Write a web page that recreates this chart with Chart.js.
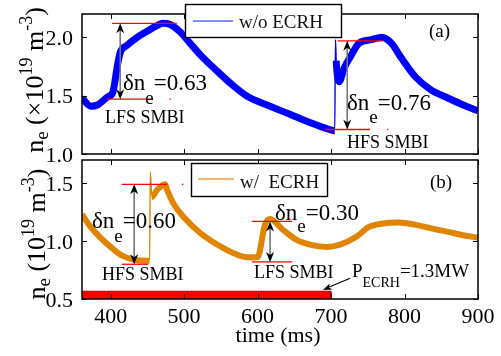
<!DOCTYPE html>
<html>
<head>
<meta charset="utf-8">
<script src="https://cdn.jsdelivr.net/npm/chart.js@4.4.0/dist/chart.umd.min.js"></script>
<style>
  html, body { margin: 0; padding: 0; background: #fff; }
  #wrap { position: relative; width: 501px; height: 356px; overflow: hidden; }
  #top { position: absolute; left: 0; top: 0; }
  #bottom { position: absolute; left: 0; top: 156px; }
</style>
</head>
<body>
<div id="wrap">
  <canvas id="top" width="501" height="168"></canvas>
  <canvas id="bottom" width="501" height="200"></canvas>
</div>
<script>
// time axis (ms)
const xMin = 361, xMax = 900;
const xTickValues = [400, 500, 600, 700, 800, 900];

// panel (a): without ECRH
const topTime = [361, 373, 382, 396, 403, 409, 413, 422, 436, 449, 463, 471, 481, 494, 508, 522, 545, 566, 587, 617, 644, 671, 698, 705, 706, 707, 711, 718, 726, 738, 755, 769, 782, 796, 815, 836, 859, 880, 900];
const topDensity = [1.48, 1.41, 1.42, 1.49, 1.53, 1.75, 1.87, 1.93, 2.0, 2.05, 2.1, 2.12, 2.11, 2.05, 1.95, 1.85, 1.71, 1.59, 1.49, 1.41, 1.34, 1.27, 1.21, 1.2, 1.98, 1.8, 1.62, 1.74, 1.83, 1.95, 1.98, 2.0, 1.95, 1.82, 1.66, 1.55, 1.48, 1.42, 1.37];
const topJump = [705, 707];
const topYTicks = [1.0, 1.5, 2.0];
// red reference levels [t start, t end, level]
const topRefLines = [[402, 490, 2.12], [395, 456, 1.47], [480, 482, 1.47], [709, 771, 1.97], [692, 753, 1.21], [776, 778, 1.21]];
// double arrows [t, low, high]
const topArrows = [[413, 1.47, 2.12], [722, 1.21, 1.97]];

// panel (b): with ECRH
const bottomTime = [361, 373, 386, 400, 414, 431, 449, 453, 454, 456, 463, 474, 477, 485, 499, 522, 545, 566, 586, 600, 610, 617, 634, 653, 671, 694, 712, 735, 751, 769, 792, 815, 836, 859, 880, 900];
const bottomDensity = [1.23, 1.12, 1.03, 0.95, 0.88, 0.84, 0.83, 0.83, 1.6, 1.38, 1.44, 1.49, 1.44, 1.33, 1.21, 1.07, 0.97, 0.9, 0.86, 0.86, 1.14, 1.19, 1.1, 1.01, 0.97, 0.95, 0.97, 1.04, 1.12, 1.15, 1.16, 1.14, 1.11, 1.08, 1.05, 1.03];
const bottomJump = [453, 456];
const bottomYTicks = [0.5, 1.0, 1.5];
const bottomRefLines = [[415, 477, 1.49], [497, 499, 1.49], [415, 451, 0.80], [592, 647, 1.17], [592, 647, 0.82]];
const bottomArrows = [[432, 0.80, 1.49], [617, 0.82, 1.17]];
const ecrhWindow = [361, 700];
const ecrhLevel = 0.567;
const powerArrow = [726, 0.68, 689, 0.578];

const FONT = '"Liberation Serif", "Times New Roman", serif';

function pts(xs, ys) {
  return xs.map((x, i) => ({ x: x, y: ys[i] }));
}

function refSets(lines) {
  return lines.map(l => ({
    data: [{ x: l[0], y: l[2] }, { x: l[1], y: l[2] }],
    borderColor: '#ff0000', borderWidth: 1.3, order: 1
  }));
}

// draws text pieces one after another: [text, size, dy]
function rich(ctx, x, y, parts) {
  parts.forEach(p => {
    ctx.font = p[1] + 'px ' + FONT;
    ctx.fillText(p[0], x, y + (p[2] || 0));
    x += ctx.measureText(p[0]).width;
  });
  return x;
}

function richWidth(ctx, parts) {
  let w = 0;
  parts.forEach(p => { ctx.font = p[1] + 'px ' + FONT; w += ctx.measureText(p[0]).width; });
  return w;
}

function arrowHead(ctx, x, y, dx, dy, len, half) {
  const n = Math.hypot(dx, dy), ux = dx / n, uy = dy / n;
  ctx.beginPath();
  ctx.moveTo(x, y);
  ctx.lineTo(x - ux * len - uy * half, y - uy * len + ux * half);
  ctx.lineTo(x - ux * len * 0.7, y - uy * len * 0.7);
  ctx.lineTo(x - ux * len + uy * half, y - uy * len - ux * half);
  ctx.closePath();
  ctx.fill();
}

function drawFrame(chart, yTicks, xLabels) {
  const ctx = chart.ctx, a = chart.chartArea;
  const xs = chart.scales.x, ys = chart.scales.y;
  ctx.save();
  ctx.strokeStyle = '#000';
  ctx.lineWidth = 1.5;
  ctx.strokeRect(a.left, a.top, a.right - a.left, a.bottom - a.top);
  ctx.lineWidth = 1;
  ctx.beginPath();
  xTickValues.forEach(v => {
    const px = Math.round(xs.getPixelForValue(v)) + 0.5;
    ctx.moveTo(px, a.top); ctx.lineTo(px, a.top + 5);
    ctx.moveTo(px, a.bottom); ctx.lineTo(px, a.bottom - 5);
  });
  yTicks.forEach(v => {
    const py = Math.round(ys.getPixelForValue(v)) + 0.5;
    ctx.moveTo(a.left, py); ctx.lineTo(a.left + 5, py);
    ctx.moveTo(a.right, py); ctx.lineTo(a.right - 5, py);
  });
  ctx.stroke();
  ctx.fillStyle = '#000';
  ctx.font = '22px ' + FONT;
  ctx.textAlign = 'right';
  yTicks.forEach(v => {
    ctx.fillText(v.toFixed(1), a.left - 9, ys.getPixelForValue(v) + 7.5);
  });
  if (xLabels) {
    ctx.textAlign = 'center';
    xTickValues.forEach(v => {
      ctx.fillText(String(v), xs.getPixelForValue(v), a.bottom + 24);
    });
  }
  ctx.restore();
}

function drawArrows(chart, arrows) {
  const ctx = chart.ctx, xs = chart.scales.x, ys = chart.scales.y;
  ctx.save();
  arrows.forEach(ar => {
    const x = xs.getPixelForValue(ar[0]);
    const y0 = ys.getPixelForValue(ar[2]), y1 = ys.getPixelForValue(ar[1]);
    ctx.strokeStyle = '#777';
    ctx.lineWidth = 1.6;
    ctx.beginPath();
    ctx.moveTo(x, y0 + 6); ctx.lineTo(x, y1 - 6);
    ctx.stroke();
    ctx.fillStyle = '#000';
    arrowHead(ctx, x, y0, 0, -1, 10, 4);
    arrowHead(ctx, x, y1, 0, 1, 10, 4);
  });
  ctx.restore();
}

function yTitle(ctx, cx, cy, parts) {
  ctx.save();
  ctx.translate(cx, cy);
  ctx.rotate(-Math.PI / 2);
  ctx.fillStyle = '#000';
  ctx.textAlign = 'left';
  rich(ctx, -richWidth(ctx, parts) / 2, 0, parts);
  ctx.restore();
}

function legendBox(ctx, x0, y0, x1, y1, color, lx0, lx1, ly, label, tx, ty) {
  ctx.save();
  ctx.fillStyle = '#fff';
  ctx.fillRect(x0, y0, x1 - x0, y1 - y0);
  ctx.strokeStyle = '#000';
  ctx.lineWidth = 1.4;
  ctx.strokeRect(x0, y0, x1 - x0, y1 - y0);
  ctx.strokeStyle = color;
  ctx.lineWidth = 1.6;
  ctx.beginPath(); ctx.moveTo(lx0, ly); ctx.lineTo(lx1, ly); ctx.stroke();
  ctx.fillStyle = '#111';
  ctx.font = '19px ' + FONT;
  ctx.fillText(label, tx, ty);
  ctx.restore();
}

const topDecor = {
  id: 'topDecor',
  afterDraw(chart) {
    const ctx = chart.ctx;
    drawFrame(chart, topYTicks, false);
    drawArrows(chart, topArrows);
    ctx.save();
    ctx.fillStyle = '#000';
    yTitle(ctx, 43, 80, [['n', 26], ['e', 19, 5], [' (\u00d710', 26], ['19', 18, -11], [' m', 26], ['-3', 18, -11], [')', 26]]);
    let x = rich(ctx, 123, 90, [['\u03b4n', 23]]);
    x = rich(ctx, x, 104, [['e', 19]]);
    rich(ctx, x, 90, [['=0.63', 23]]);
    rich(ctx, 105, 123, [['LFS SMBI', 18]]);
    x = rich(ctx, 347, 110, [['\u03b4n', 23]]);
    x = rich(ctx, x, 123, [['e', 19]]);
    rich(ctx, x, 110, [['=0.76', 23]]);
    rich(ctx, 347, 148, [['HFS SMBI', 18]]);
    rich(ctx, 429, 37, [['(a)', 19]]);
    ctx.restore();
    legendBox(ctx, 185.5, 4.5, 341.5, 37.5, '#5b67ff', 193, 233, 21, 'w/o ECRH', 239, 28);
  }
};

const bottomDecor = {
  id: 'bottomDecor',
  afterDraw(chart) {
    const ctx = chart.ctx, xs = chart.scales.x, ys = chart.scales.y;
    drawFrame(chart, bottomYTicks, true);
    drawArrows(chart, bottomArrows);
    ctx.save();
    ctx.translate(0, -156);
    ctx.fillStyle = '#000';
    yTitle(ctx, 45, 234, [['n', 26], ['e', 19, 5], [' (10', 26], ['19', 18, -11], [' m', 26], ['-3', 18, -11], [')', 26]]);
    ctx.font = '22px ' + FONT;
    ctx.textAlign = 'center';
    ctx.fillText('time (ms)', 278, 342);
    ctx.textAlign = 'left';
    let x = rich(ctx, 92, 228, [['\u03b4n', 23]]);
    x = rich(ctx, x, 242, [['e', 19]]);
    rich(ctx, x, 228, [['=0.60', 23]]);
    rich(ctx, 102, 280, [['HFS SMBI', 18]]);
    x = rich(ctx, 275, 220, [['\u03b4n', 23]]);
    x = rich(ctx, x, 232, [['e', 19]]);
    rich(ctx, x, 220, [['=0.30', 23]]);
    rich(ctx, 254, 278, [['LFS SMBI', 18]]);
    x = rich(ctx, 352, 277, [['P', 19]]);
    x = rich(ctx, x, 287, [['ECRH', 14]]);
    rich(ctx, x, 277, [['=1.3MW', 19]]);
    rich(ctx, 430, 188, [['(b)', 19]]);
    ctx.restore();
    // arrow pointing at the ECRH bar
    ctx.save();
    const ax0 = xs.getPixelForValue(powerArrow[0]), ay0 = ys.getPixelForValue(powerArrow[1]);
    const ax1 = xs.getPixelForValue(powerArrow[2]), ay1 = ys.getPixelForValue(powerArrow[3]);
    ctx.strokeStyle = '#000'; ctx.fillStyle = '#000'; ctx.lineWidth = 1.1;
    ctx.beginPath(); ctx.moveTo(ax0, ay0); ctx.lineTo(ax1 + 5, ay1 - 2.5); ctx.stroke();
    arrowHead(ctx, ax1, ay1, ax1 - ax0, ay1 - ay0, 9, 3.5);
    // dark end of the ECRH bar
    const bx = xs.getPixelForValue(ecrhWindow[1]);
    ctx.strokeStyle = '#600000'; ctx.lineWidth = 1.2;
    ctx.beginPath(); ctx.moveTo(bx, ys.getPixelForValue(ecrhLevel)); ctx.lineTo(bx, chart.chartArea.bottom); ctx.stroke();
    ctx.restore();
    ctx.save();
    ctx.translate(0, -156);
    legendBox(ctx, 191.5, 163.5, 327.5, 196.5, '#e89a3c', 198, 234, 179, 'w/  ECRH', 240, 188);
    ctx.restore();
  }
};

function options(yMin, yMax, padTop, xHeight) {
  return {
    responsive: false,
    animation: false,
    devicePixelRatio: 1,
    layout: { padding: { top: padTop, right: 23, left: 0, bottom: 0 } },
    plugins: { legend: { display: false }, tooltip: { enabled: false } },
    elements: { point: { radius: 0 }, line: { cubicInterpolationMode: 'monotone' } },
    scales: {
      x: {
        type: 'linear', min: xMin, max: xMax,
        ticks: { display: false }, grid: { display: false }, border: { display: false },
        afterFit: s => { s.height = xHeight; }
      },
      y: {
        min: yMin, max: yMax,
        ticks: { display: false }, grid: { display: false }, border: { display: false },
        afterFit: s => { s.width = 82; }
      }
    }
  };
}

function jumpWidth(jump, thick) {
  return c => (c.p0.parsed.x >= jump[0] && c.p1.parsed.x <= jump[1]) ? 1.4 : thick;
}

new Chart(document.getElementById('top'), {
  type: 'line',
  data: {
    datasets: [
      {
        data: pts(topTime, topDensity),
        borderColor: '#0000ff', borderWidth: 7, order: 3,
        segment: { borderWidth: jumpWidth(topJump, 7) }
      }
    ].concat(refSets(topRefLines))
  },
  options: options(1.0, 2.2, 14, 14),
  plugins: [topDecor]
});

new Chart(document.getElementById('bottom'), {
  type: 'line',
  data: {
    datasets: [
      {
        data: pts(bottomTime, bottomDensity),
        borderColor: '#e08500', borderWidth: 6, order: 3,
        segment: { borderWidth: jumpWidth(bottomJump, 6) }
      },
      {
        data: [{ x: ecrhWindow[0], y: ecrhLevel }, { x: ecrhWindow[1], y: ecrhLevel }],
        fill: 'start', backgroundColor: '#ff0000', borderColor: '#b00000', borderWidth: 1, order: 0
      }
    ].concat(refSets(bottomRefLines))
  },
  options: options(0.5, 1.7, 4, 57),
  plugins: [bottomDecor]
});
</script>
</body>
</html>
